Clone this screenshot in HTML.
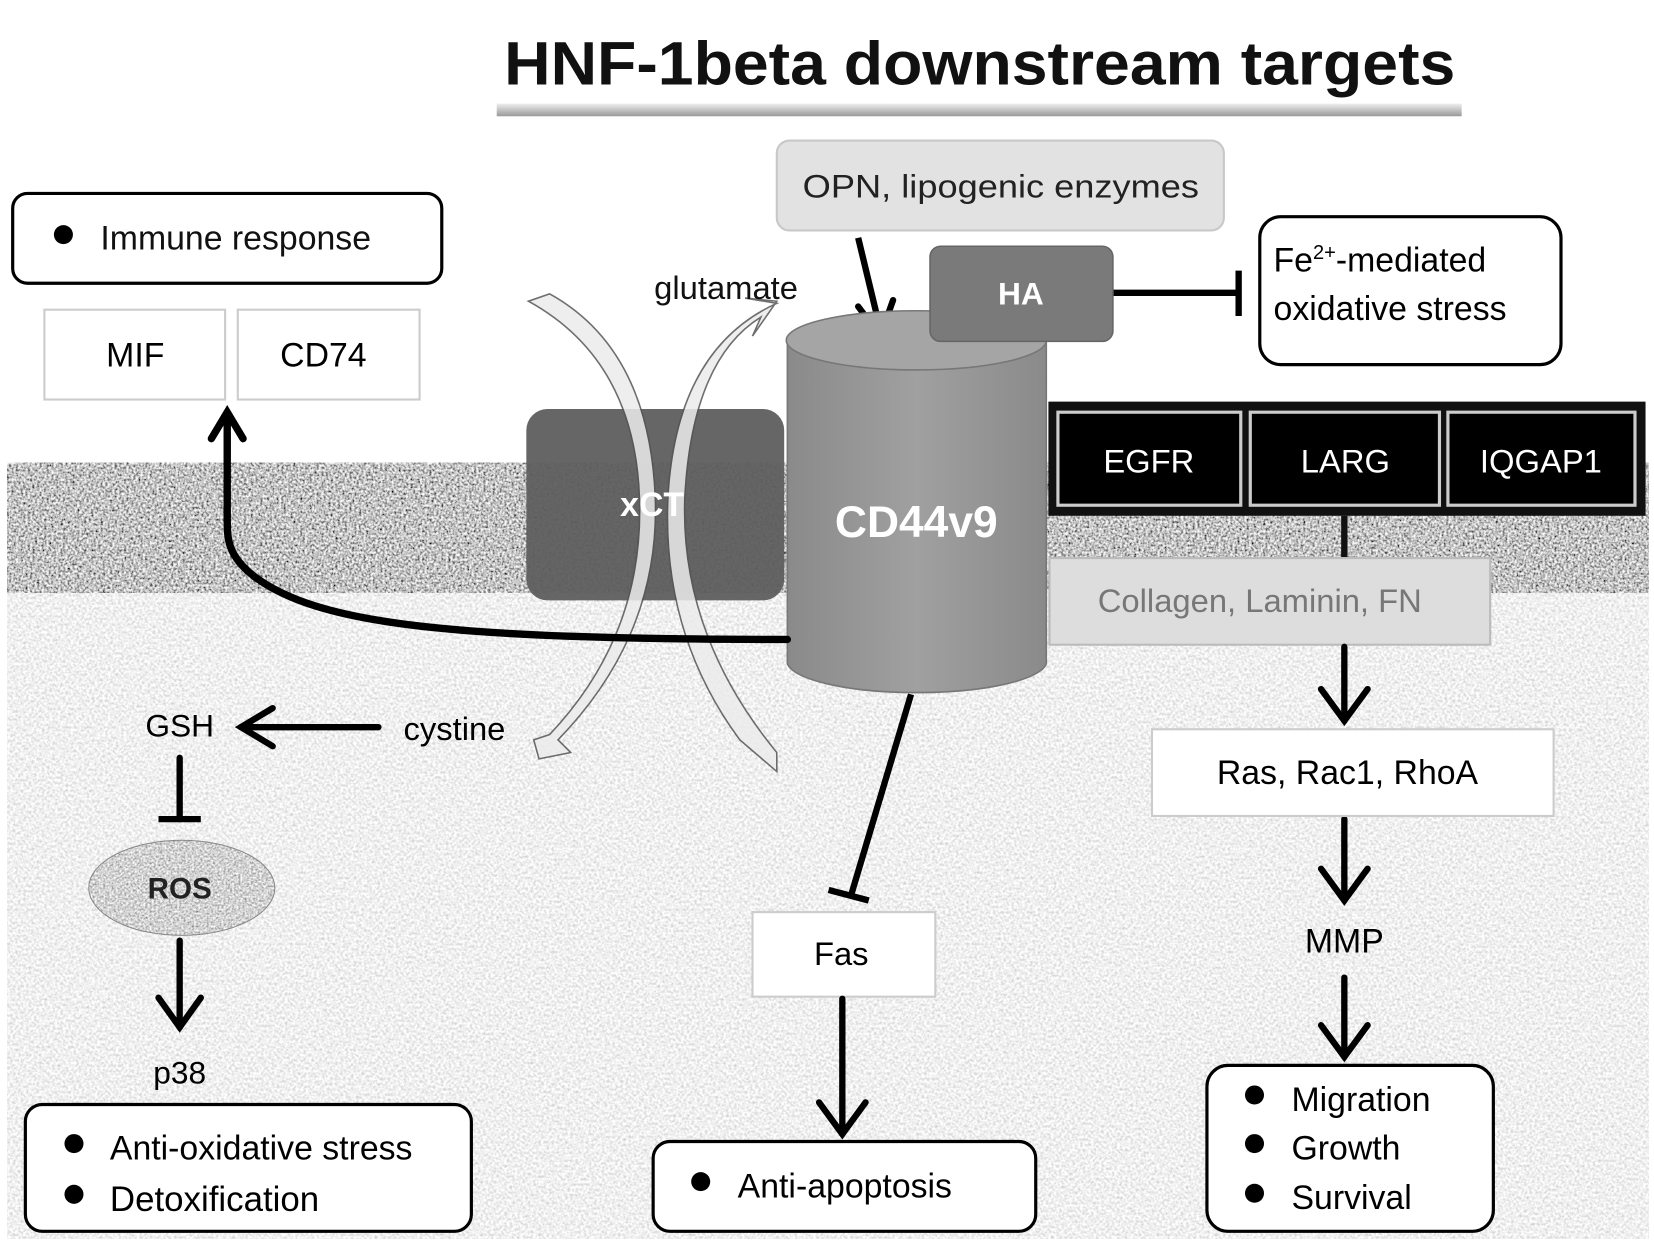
<!DOCTYPE html>
<html><head><meta charset="utf-8"><style>
html,body{margin:0;padding:0;background:#fff;}
svg{display:block;}
text{font-family:"Liberation Sans",sans-serif;}
</style></head><body>
<svg width="1654" height="1244" viewBox="0 0 1565 1177" preserveAspectRatio="none" xmlns="http://www.w3.org/2000/svg">
<defs>
<filter id="nd" x="0" y="0" width="100%" height="100%" filterUnits="objectBoundingBox">
<feTurbulence type="fractalNoise" baseFrequency="0.45" numOctaves="2" seed="3"/>
<feColorMatrix type="matrix" values="1.7 0 0 0 -0.3  1.7 0 0 0 -0.3  1.7 0 0 0 -0.3  0 0 0 0 1"/>
</filter>
<filter id="nl" x="0" y="0" width="100%" height="100%" filterUnits="objectBoundingBox">
<feTurbulence type="fractalNoise" baseFrequency="0.4" numOctaves="2" seed="7"/>
<feColorMatrix type="matrix" values="0.7 0 0 0 0.52  0.7 0 0 0 0.52  0.7 0 0 0 0.52  0 0 0 0 1"/>
</filter>
<filter id="nr" x="0" y="0" width="100%" height="100%" filterUnits="objectBoundingBox">
<feTurbulence type="fractalNoise" baseFrequency="0.5" numOctaves="2" seed="11"/>
<feColorMatrix type="matrix" values="1.2 0 0 0 0.05  1.2 0 0 0 0.05  1.2 0 0 0 0.05  0 0 0 0 1"/>
</filter>
<clipPath id="rosc"><ellipse cx="172" cy="840" rx="88" ry="45"/></clipPath>
<linearGradient id="ul" x1="0" y1="0" x2="0" y2="1"><stop offset="0" stop-color="#eee"/><stop offset="1" stop-color="#999"/></linearGradient>
<linearGradient id="cyl" x1="0" y1="0" x2="1" y2="0"><stop offset="0" stop-color="#8a8a8a"/><stop offset="0.5" stop-color="#a0a0a0"/><stop offset="1" stop-color="#8a8a8a"/></linearGradient>
</defs>

<!-- backgrounds -->
<rect x="7" y="560" width="1553" height="612" fill="#e4e4e4" filter="url(#nl)"/>
<rect x="7" y="438" width="1553" height="123" fill="#999" filter="url(#nd)"/>

<!-- title -->
<text x="927" y="80" font-size="58" font-weight="bold" text-anchor="middle" fill="#111" textLength="900" lengthAdjust="spacingAndGlyphs">HNF-1beta downstream targets</text>
<rect x="470" y="98" width="913" height="12" fill="url(#ul)"/>

<!-- immune -->
<rect x="12" y="183" width="406" height="85" rx="14" fill="#fff" stroke="#000" stroke-width="3"/>
<circle cx="60" cy="222" r="9" fill="#000"/>
<text x="95" y="236" font-size="32" fill="#111">Immune response</text>
<rect x="42" y="293" width="171" height="85" fill="#fff" stroke="#ccc" stroke-width="2"/>
<rect x="225" y="293" width="172" height="85" fill="#fff" stroke="#ccc" stroke-width="2"/>
<text x="128" y="347" font-size="32" text-anchor="middle">MIF</text>
<text x="306" y="347" font-size="32" text-anchor="middle">CD74</text>

<!-- OPN -->
<rect x="735" y="133" width="423" height="85" rx="12" fill="#e2e2e2" stroke="#c8c8c8" stroke-width="2"/>
<text x="947" y="187" font-size="31" text-anchor="middle" fill="#222" textLength="375" lengthAdjust="spacingAndGlyphs">OPN, lipogenic enzymes</text>
<line x1="812" y1="225" x2="832" y2="308" stroke="#000" stroke-width="6"/>
<polyline points="812,290 833,318 845,284" fill="none" stroke="#000" stroke-width="6" stroke-linecap="round"/>

<!-- Fe -->
<rect x="1192" y="205" width="285" height="140" rx="20" fill="#fff" stroke="#000" stroke-width="3"/>
<text x="1205" y="257" font-size="32">Fe<tspan font-size="19" dy="-12">2+</tspan><tspan dy="12">-mediated</tspan></text>
<text x="1205" y="303" font-size="32">oxidative stress</text>
<line x1="1053" y1="277" x2="1172" y2="277" stroke="#000" stroke-width="6"/>
<line x1="1172" y1="256" x2="1172" y2="299" stroke="#000" stroke-width="6"/>

<!-- cylinder -->
<path d="M745,322 L745,628 A123,30 0 0 0 990,628 L990,322 Z" fill="url(#cyl)" stroke="#777" stroke-width="1.5"/>
<ellipse cx="867" cy="322" rx="123" ry="28" fill="#a5a5a5" stroke="#777" stroke-width="1.5"/>

<!-- HA -->
<rect x="880" y="233" width="173" height="90" rx="10" fill="#7a7a7a" stroke="#666" stroke-width="1.5"/>
<text x="966" y="288" font-size="30" font-weight="bold" text-anchor="middle" fill="#fff">HA</text>

<!-- xCT -->
<rect x="498" y="387" width="244" height="181" rx="20" fill="#5e5e5e" opacity="0.95"/>

<!-- curved white arrows -->
<g fill="#ececec" stroke="#555" stroke-width="1.5" opacity="0.85">
<path d="M500,285 Q600,340 605,470 Q610,600 520,695 L505,700 L510,718 L540,712 L528,700 Q625,600 620,470 Q614,330 520,278 Z"/>
<path d="M735,287 Q640,330 632,470 Q626,600 700,700 L735,730 L735,712 Q643,600 648,470 Q655,340 720,300 L712,318 L735,285 L705,282 Z"/>
</g>
<text x="617" y="488" font-size="32" font-weight="bold" text-anchor="middle" fill="#fff">xCT</text>
<text x="867" y="508" font-size="42" font-weight="bold" text-anchor="middle" fill="#fff">CD44v9</text>
<text x="687" y="283" font-size="31" text-anchor="middle" fill="#111">glutamate</text>

<!-- black frame -->
<rect x="992" y="380" width="565" height="108" fill="#111"/>
<rect x="1001" y="390" width="173" height="88" fill="#000" stroke="#ccc" stroke-width="3"/>
<rect x="1183" y="390" width="179" height="88" fill="#000" stroke="#ccc" stroke-width="3"/>
<rect x="1370" y="390" width="177" height="88" fill="#000" stroke="#ccc" stroke-width="3"/>
<text x="1087" y="447" font-size="31" text-anchor="middle" fill="#fff">EGFR</text>
<text x="1273" y="447" font-size="31" text-anchor="middle" fill="#fff">LARG</text>
<text x="1458" y="447" font-size="31" text-anchor="middle" fill="#fff">IQGAP1</text>

<line x1="1272" y1="488" x2="1272" y2="528" stroke="#111" stroke-width="6"/>
<rect x="993" y="528" width="417" height="82" fill="#ddd" stroke="#bbb" stroke-width="2"/>
<text x="1192" y="579" font-size="31" text-anchor="middle" fill="#777">Collagen, Laminin, FN</text>

<!-- right chain -->
<g stroke="#000" stroke-width="6" fill="none" stroke-linecap="round">
<line x1="1272" y1="612" x2="1272" y2="682"/>
<polyline points="1250,652 1272,682 1294,652"/>
<line x1="1272" y1="775" x2="1272" y2="852"/>
<polyline points="1250,822 1272,852 1294,822"/>
<line x1="1272" y1="925" x2="1272" y2="1000"/>
<polyline points="1250,970 1272,1000 1294,970"/>
</g>
<rect x="1090" y="690" width="380" height="82" fill="#fff" stroke="#ccc" stroke-width="2"/>
<text x="1275" y="742" font-size="32" text-anchor="middle">Ras, Rac1, RhoA</text>
<text x="1272" y="901" font-size="32" text-anchor="middle">MMP</text>
<rect x="1142" y="1008" width="271" height="157" rx="20" fill="#fff" stroke="#000" stroke-width="3"/>
<circle cx="1187" cy="1036" r="9" fill="#000"/>
<circle cx="1187" cy="1082" r="9" fill="#000"/>
<circle cx="1187" cy="1129" r="9" fill="#000"/>
<text x="1222" y="1051" font-size="32">Migration</text>
<text x="1222" y="1097" font-size="32">Growth</text>
<text x="1222" y="1144" font-size="32">Survival</text>

<!-- Fas chain -->
<line x1="862" y1="657" x2="805" y2="848" stroke="#000" stroke-width="6"/>
<line x1="784" y1="842" x2="822" y2="852" stroke="#000" stroke-width="6"/>
<rect x="712" y="863" width="173" height="80" fill="#fff" stroke="#ccc" stroke-width="2"/>
<text x="796" y="913" font-size="31" text-anchor="middle">Fas</text>
<g stroke="#000" stroke-width="6" fill="none" stroke-linecap="round">
<line x1="797" y1="945" x2="797" y2="1073"/>
<polyline points="775,1043 797,1073 819,1043"/>
</g>
<rect x="618" y="1080" width="362" height="85" rx="16" fill="#fff" stroke="#000" stroke-width="3"/>
<circle cx="663" cy="1118" r="9" fill="#000"/>
<text x="698" y="1133" font-size="32">Anti-apoptosis</text>

<!-- big curved arrow -->
<g stroke="#000" stroke-width="7" fill="none" stroke-linecap="round">
<path d="M745,605 C420,605 300,590 240,545 C215,525 215,510 215,490 L215,392"/>
<polyline points="200,415 215,390 230,415"/>
</g>

<!-- left chain -->
<text x="170" y="697" font-size="30" text-anchor="middle">GSH</text>
<text x="430" y="700" font-size="31" text-anchor="middle">cystine</text>
<g stroke="#000" stroke-width="6" fill="none" stroke-linecap="round">
<line x1="358" y1="688" x2="228" y2="688"/>
<polyline points="258,670 228,688 258,706"/>
<line x1="170" y1="717" x2="170" y2="775"/>
<line x1="150" y1="775" x2="190" y2="775" stroke-linecap="butt"/>
<line x1="170" y1="890" x2="170" y2="972"/>
<polyline points="150,944 170,972 190,944"/>
</g>
<rect x="84" y="795" width="176" height="90" fill="#aaa" filter="url(#nr)" clip-path="url(#rosc)"/>
<ellipse cx="172" cy="840" rx="88" ry="45" fill="none" stroke="#888" stroke-width="1"/>
<text x="170" y="850" font-size="28" font-weight="bold" text-anchor="middle" fill="#222">ROS</text>
<text x="170" y="1025" font-size="30" text-anchor="middle">p38</text>
<rect x="24" y="1045" width="422" height="120" rx="16" fill="#fff" stroke="#000" stroke-width="3"/>
<circle cx="70" cy="1082" r="9" fill="#000"/>
<circle cx="70" cy="1130" r="9" fill="#000"/>
<text x="104" y="1097" font-size="32">Anti-oxidative stress</text>
<text x="104" y="1146" font-size="33">Detoxification</text>
</svg>
</body></html>
